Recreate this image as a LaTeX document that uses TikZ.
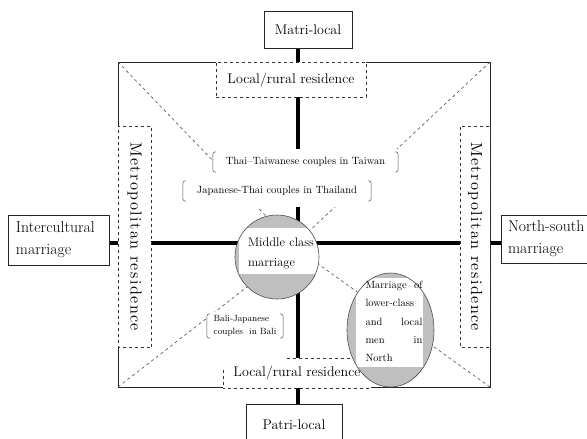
\documentclass[tikz,border=0pt]{standalone}
\usepackage{fontspec}
\newfontfamily\metrofam{lmroman10-regular.otf}[LetterSpace=9]
\usetikzlibrary{shapes.geometric,backgrounds}

\begin{document}
\begin{tikzpicture}[
x=1pt, y=-1pt,
every node/.style={inner sep=0pt},
solidbox/.style={rectangle, draw=black!85, line width=0.7pt, fill=white},
dashbox/.style={rectangle, draw=black!80, dashed, line width=0.6pt, fill=white},
coverbox/.style={rectangle, fill=white},
bigfont/.style={font=\fontsize{14}{22}\selectfont},
sidefont/.style={font=\fontsize{15.7}{22}\selectfont},
localfont/.style={font=\fontsize{14}{15}\selectfont},
metrofont/.style={font=\metrofam\fontsize{16}{18}\selectfont},
midfont/.style={font=\fontsize{12.5}{20}\selectfont},
ellfont/.style={font=\fontsize{10.5}{18.3}\selectfont},
smallfont/.style={font=\fontsize{10.5}{13}\selectfont},
balifont/.style={font=\fontsize{9}{13}\selectfont},
middlecirc/.style={circle, draw=black!70, line width=0.6pt, fill=gray!50, minimum size=84,
  path picture={\fill[white] ([xshift=-38pt,yshift=29pt]path picture bounding box.center)
  rectangle ([xshift=43pt,yshift=-17pt]path picture bounding box.center);}},
lowerell/.style={ellipse, draw=black!70, line width=0.6pt, fill=gray!50, minimum width=87, minimum height=114,
  path picture={\fill[white] ([xshift=-34.5pt,yshift=52pt]path picture bounding box.center)
  rectangle ([xshift=32.5pt,yshift=-37pt]path picture bounding box.center);}},
axisline/.style={line width=3.5pt},
frame/.style={line width=0.8pt, black!85},
diag/.style={line width=0.6pt, black!70, dash pattern=on 3pt off 3pt},
edge/.style={line width=0.6pt, black!80, dashed},
bracket/.style={line width=0.5pt, black!70, rounded corners=2.5pt}]

\useasboundingbox (0,0) rectangle (587,439);

\coordinate (nw) at (118,62);
\coordinate (ne) at (490,62);
\coordinate (sw) at (118,387);
\coordinate (se) at (490,387);
\coordinate (axis) at (298,0);
\coordinate (hline) at (0,243);

% outer boxes
\node[solidbox, bigfont, minimum width=88, minimum height=37] (matri) at (308,29.5) {Matri-local};
\node[solidbox, bigfont, minimum width=96, minimum height=42] (patri) at (294,425) {Patri-local};
\node[solidbox, sidefont, minimum width=101, minimum height=50, text width=85, align=left] (intercultural) at (58.5,240) {Intercultural\\marriage};
\node[solidbox, sidefont, minimum width=92, minimum height=48, text width=78, align=left] (northsouth) at (547,239) {North-south\\marriage};

% residence boxes
\node[dashbox, localfont, minimum width=150, minimum height=35] (toplocal) at (291,79.5) {Local/rural residence};
\node[dashbox, metrofont, rotate=-90, minimum width=221, minimum height=33] (metroL) at (134.5,236.5) {Metropolitan residence};
\node[dashbox, metrofont, rotate=-90, minimum width=221, minimum height=30] (metroR) at (475,236.5) {Metropolitan residence};
\node[coverbox, localfont, minimum width=148, minimum height=30] (lowlocal) at (297,373) {Local/rural residence};
\draw[edge] ([yshift=-12pt]lowlocal.north west) -- (lowlocal.south west) -- (lowlocal.south east);
\draw[edge] ([xshift=64pt]lowlocal.north west) -- (lowlocal.north east);

% couples
\node[coverbox, smallfont, minimum width=185, minimum height=26] (taiwan) at (305.5,162) {Thai--Taiwanese couples in Taiwan};
\node[coverbox, smallfont, minimum width=188, minimum height=32] (thailand) at (277,191) {Japanese-Thai couples in Thailand};
\node[coverbox, balifont, minimum width=76, minimum height=28, align=left] (bali) at (245,326) {Bali-Japanese\\couples\ \ in Bali};
\draw[bracket] ([xshift=3pt,yshift=-3pt]taiwan.north west) -- ([yshift=-3pt]taiwan.north west) -- ([yshift=3pt]taiwan.south west) -- ([xshift=3pt,yshift=3pt]taiwan.south west);
\draw[bracket] ([xshift=-3pt,yshift=-3pt]taiwan.north east) -- ([yshift=-3pt]taiwan.north east) -- ([yshift=3pt]taiwan.south east) -- ([xshift=-3pt,yshift=3pt]taiwan.south east);
\draw[bracket] ([xshift=3pt,yshift=-6pt]thailand.north west) -- ([yshift=-6pt]thailand.north west) -- ([yshift=6pt]thailand.south west) -- ([xshift=3pt,yshift=6pt]thailand.south west);
\draw[bracket] ([xshift=-3pt,yshift=-6pt]thailand.north east) -- ([yshift=-6pt]thailand.north east) -- ([yshift=6pt]thailand.south east) -- ([xshift=-3pt,yshift=6pt]thailand.south east);
\draw[bracket] ([xshift=3pt,yshift=-2pt]bali.north west) -- ([yshift=-2pt]bali.north west) -- ([yshift=2pt]bali.south west) -- ([xshift=3pt,yshift=2pt]bali.south west);
\draw[bracket] ([xshift=-3pt,yshift=-2pt]bali.north east) -- ([yshift=-2pt]bali.north east) -- ([yshift=2pt]bali.south east) -- ([xshift=-3pt,yshift=2pt]bali.south east);

% marriage types
\node[middlecirc] (middle) at (277,257) {};
\node[midfont, text width=66, align=left] (middletxt) at (281,253) {Middle\hfill class\\marriage};
\node[lowerell] (lower) at (390.5,330) {};
\node[ellfont, text width=57, align=left] (lowertxt) at (394,321.5) {Marriage\hfill of\\lower-class\\and\hfill local\\men\hfill in\\North};

\begin{scope}[on background layer]
\draw[frame] (nw) rectangle (se);
\draw[diag] (nw) -- (middle.105);
\draw[diag] (ne) -- (middle.39);
\draw[diag] (sw) -- (middle.225);
\draw[diag] (se) -- (middle.-10);
\draw[axisline] (matri.south -| axis) -- (patri.north -| axis);
\draw[axisline] (intercultural.east |- hline) -- (northsouth.west |- hline);
\end{scope}
\end{tikzpicture}
\end{document}
